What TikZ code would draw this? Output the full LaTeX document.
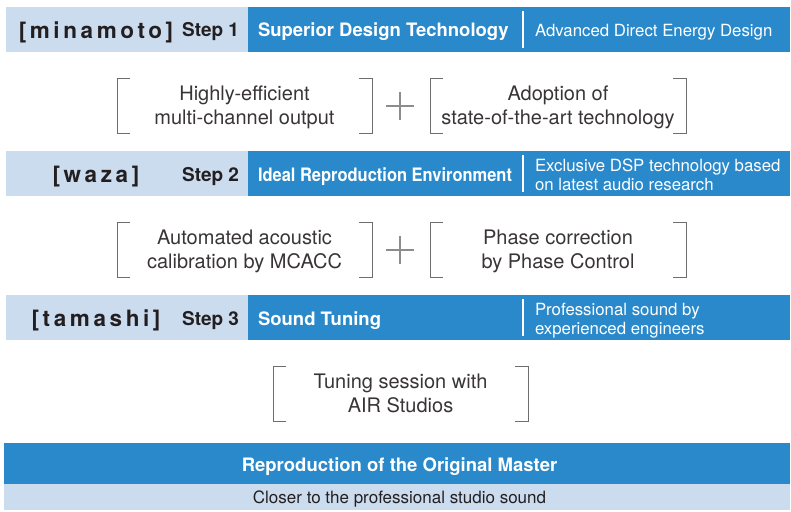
\documentclass[tikz,border=0pt]{standalone}
\usepackage{fontspec}
\setmainfont{TeX Gyre Heros}
\newfontfamily\condfont[FakeStretch=0.89]{TeX Gyre Heros}
\newfontfamily\spacedfont[LetterSpace=16]{TeX Gyre Heros}
\usetikzlibrary{positioning}
\definecolor{bandblue}{HTML}{2A89CB}
\definecolor{bandlight}{HTML}{CBDCEF}
\definecolor{inkdark}{HTML}{231F20}
\definecolor{bracketgray}{HTML}{6D6E71}
\definecolor{plusgray}{HTML}{8A8C8E}

\begin{document}
\begin{tikzpicture}[x=1pt, y=-1pt,
        every node/.style={inner sep=0pt, outer sep=0pt},
        tagtext/.style={font=\fontsize{22.5}{26}\selectfont\spacedfont\bfseries, text=inkdark, anchor=base},
        steptext/.style={font=\fontsize{19}{22}\selectfont\bfseries, text=inkdark, anchor=base east},
        headtext/.style={font=\fontsize{18.5}{22}\selectfont\bfseries, text=white, anchor=base west},
        subtext/.style={font=\fontsize{16.8}{20}\selectfont, text=white, anchor=base west},
        featuretext/.style={font=\fontsize{20}{24}\selectfont, text=inkdark!90, align=center, anchor=base},
        bracketline/.style={bracketgray, line width=1pt},
        plusline/.style={plusgray, line width=2pt},
        divider/.style={white, line width=2pt}]
        \useasboundingbox (0,0) rectangle (791,511);

        % Step 1 band
        \fill[bandlight] (6,7) rectangle (248,52);
        \fill[bandblue] (248,7) rectangle (790,52);
        \node[tagtext] (tag1) at (96,38) {[minamoto]};
        \node[steptext] (step1) at (239,37) {Step 1};
        \node[headtext] (head1) at (258,37) {Superior Design Technology};
        \draw[divider] (523,11) -- (523,48);
        \node[subtext] (sub1) at (535,37) {Advanced Direct Energy Design};

        % Step 1 features
        \draw[bracketline] (130,78) -- (117,78) -- (117,133) -- (130,133);
        \draw[bracketline] (359,78) -- (372,78) -- (372,133) -- (359,133);
        \node[featuretext] (feat1a) at (244.5,124) {Highly-efficient\\multi-channel output};
        \draw[plusline] (386,106) -- (414,106);
        \draw[plusline] (400,92) -- (400,120);
        \draw[bracketline] (443,78) -- (430,78) -- (430,133) -- (443,133);
        \draw[bracketline] (673,78) -- (686,78) -- (686,133) -- (673,133);
        \node[featuretext] (feat1b) at (558,124) {Adoption of\\state-of-the-art technology};

        % Step 2 band
        \fill[bandlight] (6,151) rectangle (248,196);
        \fill[bandblue] (248,151) rectangle (790,196);
        \node[tagtext] (tag2) at (96,182) {[waza]};
        \node[steptext] (step2) at (239,181) {Step 2};
        \node[headtext, font=\fontsize{18.5}{22}\selectfont\condfont\bfseries] (head2) at (258,181) {Ideal Reproduction Environment};
        \draw[divider] (523,155) -- (523,192);
        \node[subtext] (sub2a) at (535,171) {Exclusive DSP technology based};
        \node[subtext] (sub2b) at (535,190) {on latest audio research};

        % Step 2 features
        \draw[bracketline] (130,222) -- (117,222) -- (117,277) -- (130,277);
        \draw[bracketline] (359,222) -- (372,222) -- (372,277) -- (359,277);
        \node[featuretext] (feat2a) at (244.5,268) {Automated acoustic\\calibration by MCACC};
        \draw[plusline] (386,250) -- (414,250);
        \draw[plusline] (400,236) -- (400,264);
        \draw[bracketline] (443,222) -- (430,222) -- (430,277) -- (443,277);
        \draw[bracketline] (673,222) -- (686,222) -- (686,277) -- (673,277);
        \node[featuretext] (feat2b) at (558,268) {Phase correction\\by Phase Control};

        % Step 3 band
        \fill[bandlight] (6,295) rectangle (248,340);
        \fill[bandblue] (248,295) rectangle (790,340);
        \node[tagtext] (tag3) at (96,326) {[tamashi]};
        \node[steptext] (step3) at (239,325) {Step 3};
        \node[headtext] (head3) at (258,325) {Sound Tuning};
        \draw[divider] (523,299) -- (523,336);
        \node[subtext] (sub3a) at (535,315) {Professional sound by};
        \node[subtext] (sub3b) at (535,334) {experienced engineers};

        % Step 3 feature
        \draw[bracketline] (286,366) -- (273,366) -- (273,421) -- (286,421);
        \draw[bracketline] (515,366) -- (528,366) -- (528,421) -- (515,421);
        \node[featuretext] (feat3) at (400.5,412) {Tuning session with\\AIR Studios};

        % Result
        \fill[bandblue] (4,443) rectangle (790,484);
        \fill[bandlight] (4,484) rectangle (790,510);
        \node[headtext, anchor=base] (master) at (399.5,471) {Reproduction of the Original Master};
        \node[font=\fontsize{17}{20}\selectfont, text=inkdark, anchor=base] (closer) at (399.5,503) {Closer to the professional studio sound};

    \end{tikzpicture}
\end{document}
